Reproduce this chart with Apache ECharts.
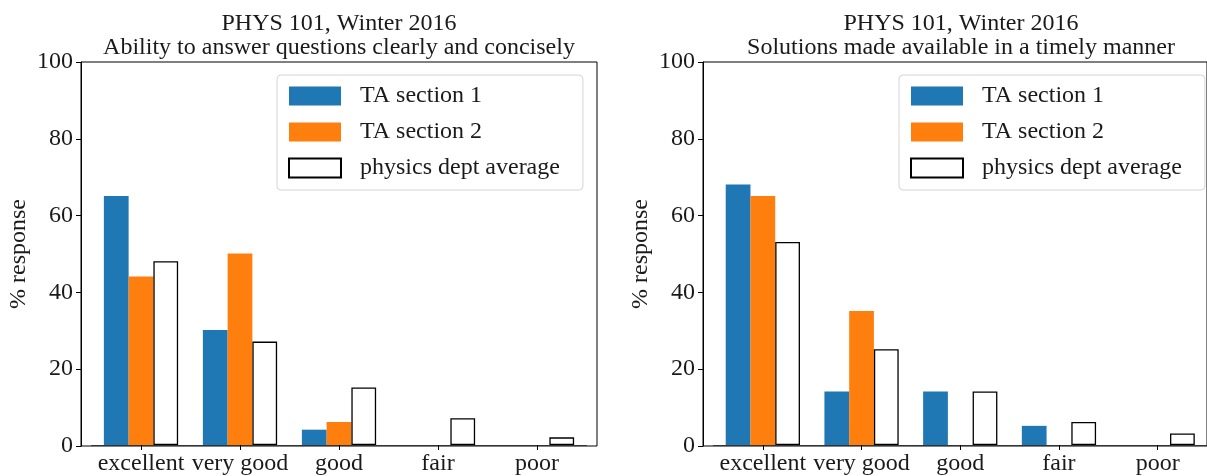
<!DOCTYPE html>
<html>
<head>
<meta charset="utf-8">
<script src="https://cdn.jsdelivr.net/npm/echarts@6/dist/echarts.min.js"></script>
<style>
  html, body { margin: 0; padding: 0; background: #fff; }
  #chart { width: 1207px; height: 476px; }
</style>
</head>
<body>
<div id="chart"></div>
<script>
// Survey responses (% of students) per rating category
const categories = ['excellent', 'very good', 'good', 'fair', 'poor'];
const seriesNames = ['TA section 1', 'TA section 2', 'physics dept average'];

// Panel 1: Ability to answer questions clearly and concisely
const clarityTA1 = [65, 30, 4, 0, 0];
const clarityTA2 = [44, 50, 6, 0, 0];
const clarityDept = [48, 27, 15, 7, 2];

// Panel 2: Solutions made available in a timely manner
const timelyTA1 = [68, 14, 14, 5, 0];
const timelyTA2 = [65, 35, 0, 0, 0];
const timelyDept = [53, 25, 14, 6, 3];

const yMin = 0, yMax = 100, yStep = 20;

const panelTitles = [
  'PHYS 101, Winter 2016\nAbility to answer questions clearly and concisely',
  'PHYS 101, Winter 2016\nSolutions made available in a timely manner'
];

const FONT = '"Liberation Serif", "DejaVu Serif", serif';
const TXT = '#1a1a1a';
const BLUE = '#1f77b4', ORANGE = '#ff7f0e';

// panel geometry (frame) and the inner band for the categories
const panels = [
  { left: 81, legendLeft: 277, data: [clarityTA1, clarityTA2, clarityDept] },
  { left: 703, legendLeft: 899, data: [timelyTA1, timelyTA2, timelyDept] }
];
const TOP = 62, H = 384, FRAME_W = 516, BAND_PAD = 10.5, BAND_W = 495;

const grids = [], xAxes = [], yAxes = [], series = [], legends = [], graphics = [];

panels.forEach((p, i) => {
  // frame grid: box spines and the y axis
  grids.push({ left: p.left, top: TOP, width: FRAME_W, height: H, show: true,
    borderColor: '#000', borderWidth: 1, backgroundColor: 'transparent' });
  // band grid: the categories and bars
  grids.push({ left: p.left + BAND_PAD, top: TOP, width: BAND_W, height: H });

  const fg = 2 * i, bg = 2 * i + 1;
  xAxes.push({ gridIndex: fg, type: 'value', min: 0, max: 1, show: false });
  yAxes.push({
    gridIndex: fg, type: 'value', min: yMin, max: yMax, interval: yStep,
    name: '% response', nameLocation: 'middle', nameGap: 50, nameRotate: 90,
    nameTextStyle: { fontFamily: FONT, fontSize: 24, color: TXT },
    axisLine: { show: true, lineStyle: { color: '#000', width: 1 } },
    axisTick: { show: true, length: 5, lineStyle: { color: '#000' } },
    axisLabel: { fontFamily: FONT, fontSize: 24, color: TXT, margin: 8 },
    splitLine: { show: false }
  });
  xAxes.push({
    gridIndex: bg, type: 'category', data: categories, boundaryGap: true,
    axisLine: { show: true, lineStyle: { color: '#333', width: 1 } },
    axisTick: { show: true, alignWithLabel: true, length: 5, lineStyle: { color: '#000' } },
    axisLabel: { fontFamily: FONT, fontSize: 24, color: TXT, margin: 7, interval: 0 }
  });
  yAxes.push({ gridIndex: bg, type: 'value', min: yMin, max: yMax, show: false });

  const styles = [
    { color: BLUE },
    { color: ORANGE },
    { color: '#fff', borderColor: '#000', borderWidth: 1.3 }
  ];
  p.data.forEach((vals, k) => {
    series.push({
      type: 'bar', name: seriesNames[k], xAxisIndex: 2 * i + 1, yAxisIndex: 2 * i + 1,
      data: vals, barWidth: 24.75, barGap: '0%', itemStyle: styles[k],
      emphasis: { disabled: true }
    });
  });

  legends.push({
    data: seriesNames.map(n => ({ name: n, icon: 'rect' })),
    orient: 'vertical', left: p.legendLeft, top: 75,
    itemWidth: 52, itemHeight: 19, itemGap: 12,
    padding: [9, 23, 10, 11],
    backgroundColor: 'rgba(255,255,255,0.8)', borderColor: '#d4d4d4', borderWidth: 1, borderRadius: 4,
    textStyle: { fontFamily: FONT, fontSize: 24, color: TXT, padding: [0, 0, 0, 14] },
    selectedMode: false
  });

  graphics.push({
    type: 'text', x: p.left + FRAME_W / 2, y: 12,
    style: { text: panelTitles[i], fontFamily: FONT, fontSize: 24, fill: TXT,
      align: 'center', verticalAlign: 'top', lineHeight: 24 }
  });
});

const chart = echarts.init(document.getElementById('chart'), null, { renderer: 'canvas' });
chart.setOption({
  animation: false,
  grid: grids, xAxis: xAxes, yAxis: yAxes, series: series,
  legend: legends, graphic: graphics
});
</script>
</body>
</html>
